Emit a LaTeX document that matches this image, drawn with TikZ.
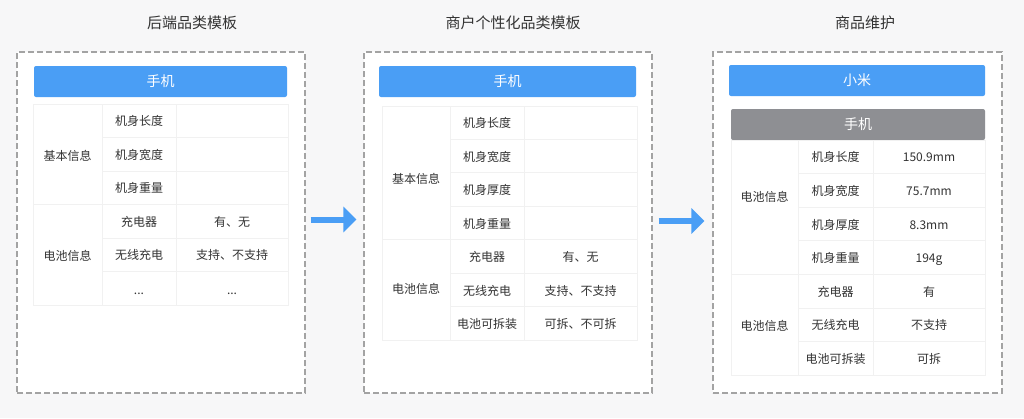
\documentclass[tikz,border=0pt]{standalone}
\usepackage{fontspec}
\setmainfont{Noto Sans CJK SC}
\usepackage{tikz}
\usetikzlibrary{arrows.meta}

\definecolor{bgcol}{HTML}{F7F7F8}
\definecolor{dashcol}{HTML}{A3A3A3}
\definecolor{bluecol}{HTML}{4A9EF5}
\definecolor{graycol}{HTML}{8E8F93}
\definecolor{gridcol}{HTML}{F1F1F1}
\definecolor{txtcol}{HTML}{333333}

\tikzset{
  panel/.style={draw=dashcol,line width=1.2pt,dash pattern=on 6pt off 3pt,fill=white,
    minimum width=288pt,minimum height=341pt,inner sep=0pt},
  paneltitle/.style={text=txtcol,font=\fontsize{15}{18}\selectfont},
  header/.style={fill=#1,rounded corners=2pt,text=white,minimum height=31pt,inner sep=0pt,
    font=\fontsize{14}{16}\selectfont},
  cell/.style={text=txtcol,inner sep=0pt,text height=10pt,text depth=2pt,
    font=\fontsize{12}{14}\selectfont},
  grid/.style={draw=gridcol,line width=0.8pt},
  flow/.style={draw=bluecol,line width=6pt,-{Triangle[length=13pt,width=25pt]}}
}

\begin{document}
\begin{tikzpicture}[x=1pt,y=-1pt]
  \fill[bgcol] (0,0) rectangle (1024,418);

  %layout
  \node[panel] (p1) at (161,222.5) {};
  \node[panel] (p2) at (508,222.5) {};
  \node[panel,minimum width=289pt] (p3) at (857.5,222.5) {};

  %titles
  \node[paneltitle] (t1) at (192,23) {后端品类模板};
  \node[paneltitle] (t2) at (513,23) {商户个性化品类模板};
  \node[paneltitle] (t3) at (865,23) {商品维护};

  %first diagram
  \node[header=bluecol,minimum width=253pt] (h1) at (160.5,81.5) {手机};

  %grid
  \draw[grid] (33,104) rectangle (288,305);
  \draw[grid] (102,104) -- (102,305);
  \draw[grid] (176,104) -- (176,305);
  \draw[grid] (102,137.5) -- (288,137.5);
  \draw[grid] (102,171) -- (288,171);
  \draw[grid] (33,204.5) -- (288,204.5);
  \draw[grid] (102,238) -- (288,238);
  \draw[grid] (102,271.5) -- (288,271.5);

  %cells
  \node[cell] (a1) at (67.5,156) {基本信息};
  \node[cell] (a2) at (67.5,256) {电池信息};
  \node[cell] (a11) at (139,121.75) {机身长度};
  \node[cell] (a12) at (139,155.25) {机身宽度};
  \node[cell] (a13) at (139,188.75) {机身重量};
  \node[cell] (a21) at (139,222.25) {充电器};
  \node[cell] (a22) at (139,255.75) {无线充电};
  \node[cell] (a23) at (139,290.5) {...};
  \node[cell] (b21) at (232,222.25) {有、无};
  \node[cell] (b22) at (232,255.75) {支持、不支持};
  \node[cell] (b23) at (232,290.5) {...};

  %second diagram
  \node[header=bluecol,minimum width=257pt] (h2) at (507.5,81.5) {手机};

  %grid
  \draw[grid] (382,106) rectangle (637,340);
  \draw[grid] (450,106) -- (450,340);
  \draw[grid] (524,106) -- (524,340);
  \draw[grid] (450,139.4) -- (637,139.4);
  \draw[grid] (450,172.8) -- (637,172.8);
  \draw[grid] (450,206.2) -- (637,206.2);
  \draw[grid] (382,239.6) -- (637,239.6);
  \draw[grid] (450,273) -- (637,273);
  \draw[grid] (450,306.4) -- (637,306.4);

  %cells
  \node[cell] (c1) at (416,179) {基本信息};
  \node[cell] (c2) at (416,289) {电池信息};
  \node[cell] (c11) at (487,123) {机身长度};
  \node[cell] (c12) at (487,157) {机身宽度};
  \node[cell] (c13) at (487,190.5) {机身厚度};
  \node[cell] (c14) at (487,224) {机身重量};
  \node[cell] (c21) at (487,257.5) {充电器};
  \node[cell] (c22) at (487,291) {无线充电};
  \node[cell] (c23) at (487,324) {电池可拆装};
  \node[cell] (d21) at (580.5,257.5) {有、无};
  \node[cell] (d22) at (580.5,291) {支持、不支持};
  \node[cell] (d23) at (580.5,324) {可拆、不可拆};

  %third diagram
  \node[header=bluecol,minimum width=256pt] (h3) at (857,80.5) {小米};
  \node[header=graycol,minimum width=254pt] (h4) at (858,124.5) {手机};

  %grid
  \draw[grid] (731,140) rectangle (985,375);
  \draw[grid] (798,140) -- (798,375);
  \draw[grid] (873,140) -- (873,375);
  \draw[grid] (798,173.6) -- (985,173.6);
  \draw[grid] (798,207.1) -- (985,207.1);
  \draw[grid] (798,240.7) -- (985,240.7);
  \draw[grid] (731,274.3) -- (985,274.3);
  \draw[grid] (798,307.9) -- (985,307.9);
  \draw[grid] (798,341.4) -- (985,341.4);

  %cells
  \node[cell] (e1) at (764.5,197) {电池信息};
  \node[cell] (e2) at (764.5,326) {电池信息};
  \node[cell] (e11) at (835.5,157.5) {机身长度};
  \node[cell] (e12) at (835.5,191) {机身宽度};
  \node[cell] (e13) at (835.5,225) {机身厚度};
  \node[cell] (e14) at (835.5,258.5) {机身重量};
  \node[cell] (e21) at (835.5,292) {充电器};
  \node[cell] (e22) at (835.5,325.5) {无线充电};
  \node[cell] (e23) at (835.5,359) {电池可拆装};
  \node[cell] (f11) at (929,157.5) {150.9mm};
  \node[cell] (f12) at (929,191) {75.7mm};
  \node[cell] (f13) at (929,225) {8.3mm};
  \node[cell] (f14) at (929,258.5) {194g};
  \node[cell] (f21) at (929,292) {有};
  \node[cell] (f22) at (929,325.5) {不支持};
  \node[cell] (f23) at (929,359) {可拆};

  %arrows
  \draw[flow] ([xshift=5pt,yshift=3pt]p1.east) -- ([xshift=-7pt,yshift=3pt]p2.west);
  \draw[flow] ([xshift=6pt,yshift=1.5pt]p2.east) -- ([xshift=-8pt,yshift=1.5pt]p3.west);

\end{tikzpicture}
\end{document}
